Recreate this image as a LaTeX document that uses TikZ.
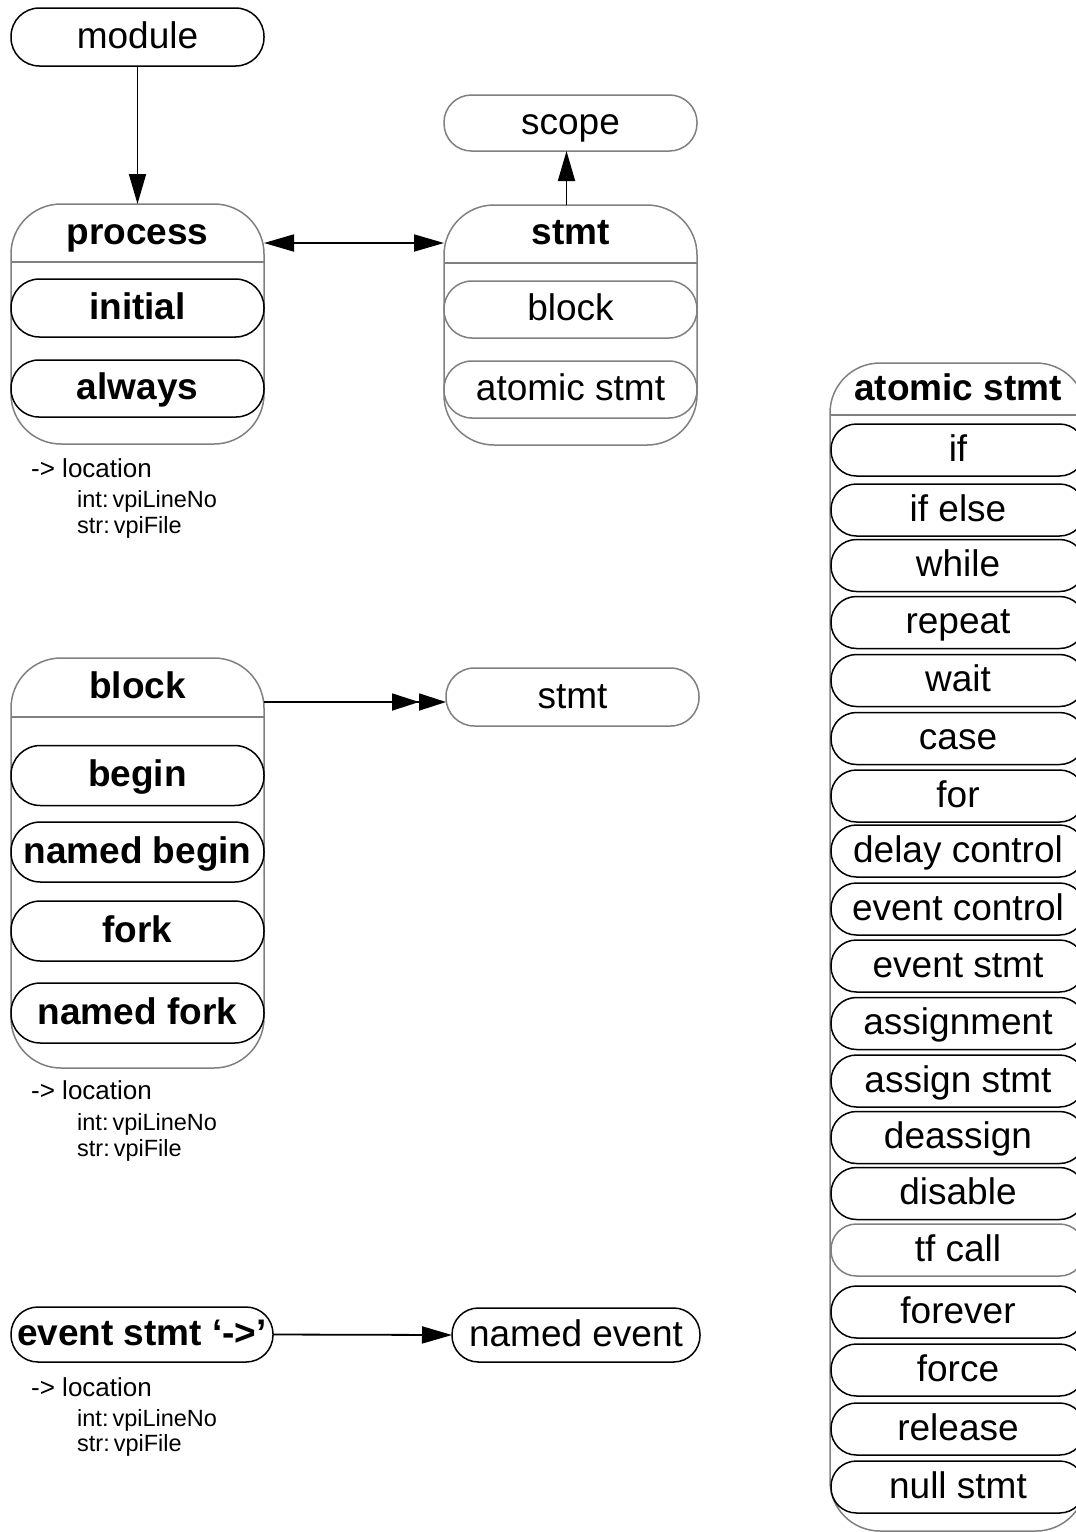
\documentclass[tikz,border=0pt]{standalone}
\usepackage{fontspec}
\setmainfont{Liberation Sans}
\usetikzlibrary{arrows.meta}
\definecolor{boxgray}{RGB}{128,128,128}
\newcommand{\bigf}{\fontsize{37}{41}\selectfont}
\tikzset{
  txt/.style={font=\bigf, text height=28pt, text depth=6pt, inner sep=0pt, outer sep=0pt},
  pill/.style={txt, draw=black, line width=1.5pt, minimum width=253pt, minimum height=#1*1pt, rounded corners={#1*0.49pt}},
  gpill/.style={pill=#1, draw=boxgray},
  bpill/.style={pill=#1, font=\bigf\bfseries},
  container/.style={draw=boxgray, line width=1.5pt, rounded corners=50pt, inner sep=0pt, outer sep=0pt},
  hdr/.style={txt, font=\bigf\bfseries, minimum width=253pt},
  sepline/.style={draw=boxgray, line width=1.5pt},
  loctop/.style={font=\fontsize{26}{29}\selectfont, inner sep=0pt, anchor=base west},
  locsub/.style={font=\fontsize{23.5}{26}\selectfont, inner sep=0pt, anchor=base west},
  arr/.style={line width=1.8pt, -{Triangle[length=30pt,width=17pt]}},
  darr/.style={line width=1.8pt, {Triangle[length=30pt,width=17pt]}-{Triangle[length=30pt,width=17pt]}},
  dblarr/.style={line width=1.8pt, -{Triangle[length=27pt,width=17pt]Triangle[length=27pt,width=17pt]}}
}
\begin{document}
\begin{tikzpicture}[x=1pt,y=-1pt]
\useasboundingbox (0,0) rectangle (1076,1532);
\clip (0,0) rectangle (1076,1532);
\fill[white] (0,0) rectangle (1076,1532);

% module
\node[pill=58] (module) at (137.5,37) {module};

% process container
\node[container, minimum width=253pt, minimum height=240pt] (process) at (137.5,324) {};
\draw[sepline] (process.west |- 0,262) -- (process.east |- 0,262);
\node[hdr] (processhdr) at (137.5,233) {process};
\node[bpill=58] (initial) at (137.5,308) {initial};
\node[bpill=57] (always) at (137.5,388.5) {always};
\node[loctop] (loc1) at (31,477) {-> location};
\node[locsub] (loc1a) at (77,507) {int:\hspace{0.17em}vpiLineNo};
\node[locsub] (loc1b) at (77,533) {str:\hspace{0.17em}vpiFile};

% scope
\node[gpill=56] (scope) at (570.5,123) {scope};

% stmt container
\node[container, minimum width=253pt, minimum height=240pt] (stmt) at (570.5,325) {};
\draw[sepline] (stmt.west |- 0,263) -- (stmt.east |- 0,263);
\node[hdr] (stmthdr) at (570.5,233) {stmt};
\node[gpill=57] (blockref) at (570.5,309.5) {block};
\node[gpill=57] (atomicref) at (570.5,389.5) {atomic stmt};

% arrows top
\draw[arr] (module.south) -- (process.north);
\draw[arr] ([xshift=-4pt]stmt.north) -- ([xshift=-4pt]scope.south);
\draw[darr] ([yshift=-10pt]processhdr.east) -- ([yshift=-10pt]stmthdr.west);

% block container
\node[container, minimum width=253pt, minimum height=410pt] (block) at (137.5,863) {};
\draw[sepline] (block.west |- 0,717) -- (block.east |- 0,717);
\node[hdr] (blockhdr) at (137.5,687) {block};
\node[bpill=60] (begin) at (137.5,775.5) {begin};
\node[bpill=60] (namedbegin) at (137.5,852) {named begin};
\node[bpill=60] (fork) at (137.5,931) {fork};
\node[bpill=60] (namedfork) at (137.5,1013) {named fork};
\node[loctop] (loc2) at (31,1099) {-> location};
\node[locsub] (loc2a) at (77,1130) {int:\hspace{0.17em}vpiLineNo};
\node[locsub] (loc2b) at (77,1156) {str:\hspace{0.17em}vpiFile};

\node[gpill=58] (stmtref) at (572.5,697) {stmt};
\draw[dblarr] (blockhdr.east |- 0,702) -- (stmtref.west |- 0,702);

% event stmt
\node[bpill=55, minimum width=262pt] (eventstmt) at (142,1334.5) {event stmt ‘->’};
\node[pill=54, minimum width=248pt] (namedevent) at (576,1335) {named event};
\draw[arr] (eventstmt.east) -- (namedevent.west);
\node[loctop] (loc3) at (31,1396) {-> location};
\node[locsub] (loc3a) at (77,1426) {int:\hspace{0.17em}vpiLineNo};
\node[locsub] (loc3b) at (77,1451) {str:\hspace{0.17em}vpiFile};

% atomic stmt container
\node[container, minimum width=256pt, minimum height=1168pt] (atomic) at (958,947) {};
\draw[sepline] (atomic.west |- 0,415) -- (atomic.east |- 0,415);
\node[hdr] (atomichdr) at (958,389) {atomic stmt};
\foreach \name/\lbl/\yy in {if/if/450, ifelse/if else/510, while/while/565.5, repeat/repeat/622.5,
  wait/wait/680.5, case/case/738.5, for/for/796, delay/delay control/851, eventctl/event control/909,
  evstmt/event stmt/966, assignment/assignment/1023.5, assignstmt/assign stmt/1081,
  deassign/deassign/1137.5, disable/disable/1193.5, forever/forever/1312, force/force/1370,
  release/release/1429, nullstmt/null stmt/1487}{
  \node[pill=52, minimum width=254pt] (a-\name) at (958,\yy) {\lbl};
}
\node[gpill=52, minimum width=254pt] (a-tfcall) at (958,1250) {tf call};
\end{tikzpicture}
\end{document}
